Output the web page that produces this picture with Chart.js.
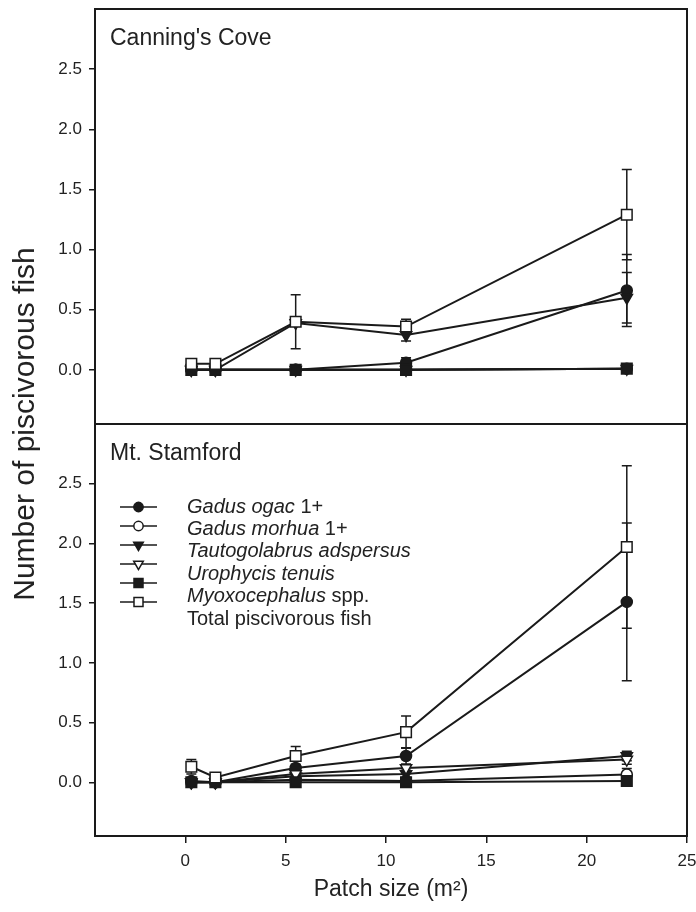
<!DOCTYPE html>
<html lang="en">
<head>
  <meta charset="UTF-8" />
  <title>Piscivorous fish by patch size</title>
  <script src="https://cdn.jsdelivr.net/npm/chart.js"></script>
  <style>
    html, body { margin: 0; padding: 0; background: #fff; }
    #wrap { position: relative; width: 696px; height: 912px; }
    #topBox { position: absolute; left: 0; top: 0; }
    #botBox { position: absolute; left: 0; top: 424px; }
    #ytitle {
      position: absolute; left: 24px; top: 424px; width: 600px;
      transform: translate(-50%, -50%) rotate(-90deg);
      text-align: center; white-space: nowrap;
      font: 30px 'Liberation Sans', Arial, sans-serif; color: #222;
    }
  </style>
</head>
<body>
<div id="wrap">
  <div id="topBox"><canvas id="topChart" width="696" height="425"></canvas></div>
  <div id="botBox"><canvas id="botChart" width="696" height="488"></canvas></div>
  <div id="ytitle">Number of piscivorous fish</div>
</div>
<script>
  // patch sizes (m2) and axis ticks
  const xVals = [0.3, 1.5, 5.5, 11, 22];
  const xTicks = [0, 5, 10, 15, 20, 25];
  const yTicks = [0, 0.5, 1, 1.5, 2, 2.5];

  // legend text: italic part + plain part
  const legendItalic = ['Gadus ogac', 'Gadus morhua', 'Tautogolabrus adspersus', 'Urophycis tenuis', 'Myoxocephalus', ''];
  const legendPlain = [' 1+', ' 1+', '', '', ' spp.', 'Total piscivorous fish'];

  // Canning's Cove
  const ccOgac = [0, 0, 0, 0.06, 0.66];
  const ccOgacErr = [0, 0, 0, 0.04, 0.30];
  const ccMorhua = [0, 0, 0, 0, 0.01];
  const ccMorhuaErr = [0, 0, 0, 0, 0];
  const ccTauto = [0, 0, 0.39, 0.29, 0.60];
  const ccTautoErr = [0, 0, 0, 0.05, 0.21];
  const ccUro = [0, 0, 0, 0, 0.01];
  const ccUroErr = [0, 0, 0, 0, 0];
  const ccMyox = [0, 0, 0, 0, 0.01];
  const ccMyoxErr = [0, 0, 0, 0, 0];
  const ccTotal = [0.05, 0.05, 0.40, 0.36, 1.29];
  const ccTotalErr = [0, 0, 0.225, 0.06, 0.375];

  // Mt. Stamford
  const msOgac = [0.01, 0, 0.12, 0.22, 1.51];
  const msOgacErr = [0.01, 0, 0.03, 0.07, 0.66];
  const msMorhua = [0, 0, 0.02, 0.01, 0.065];
  const msMorhuaErr = [0, 0, 0, 0.01, 0.05];
  const msTauto = [0, 0, 0.05, 0.07, 0.22];
  const msTautoErr = [0, 0, 0.02, 0.03, 0.04];
  const msUro = [0, 0, 0.07, 0.12, 0.19];
  const msUroErr = [0, 0, 0.02, 0.03, 0.04];
  const msMyox = [0, 0, 0, 0, 0.01];
  const msMyoxErr = [0, 0, 0, 0, 0];
  const msTotal = [0.13, 0.04, 0.22, 0.42, 1.97];
  const msTotalErr = [0.06, 0.01, 0.08, 0.135, 0.68];

  const INK = '#1a1a1a';
  const FONT = "'Liberation Sans', Arial, sans-serif";
  Chart.defaults.font.family = FONT;
  Chart.defaults.color = '#222';

  // marker styles in legend order
  const marks = [
    { style: 'circle', fill: INK, r: 5.5, rot: 0 },
    { style: 'circle', fill: '#fff', r: 5.5, rot: 0 },
    { style: 'triangle', fill: INK, r: 6.5, rot: 180 },
    { style: 'triangle', fill: '#fff', r: 6.5, rot: 180 },
    { style: 'rect', fill: INK, r: 7.5, rot: 0 },
    { style: 'rect', fill: '#fff', r: 7.5, rot: 0 }
  ];

  function makeSets(series, errs) {
    return series.map((vals, i) => ({
      data: xVals.map((x, j) => ({ x: x, y: vals[j] })),
      errs: errs[i],
      borderColor: INK,
      borderWidth: 2,
      pointStyle: marks[i].style,
      pointRadius: marks[i].r,
      pointRotation: marks[i].rot,
      pointBackgroundColor: marks[i].fill,
      pointBorderColor: INK,
      pointBorderWidth: 1.5,
      order: series.length - i,
      tension: 0
    }));
  }

  const errorBars = {
    id: 'errorBars',
    beforeDatasetsDraw(chart) {
      const ctx = chart.ctx;
      const ys = chart.scales.y;
      ctx.save();
      ctx.strokeStyle = INK;
      ctx.lineWidth = 1.5;
      chart.data.datasets.forEach((ds, i) => {
        const meta = chart.getDatasetMeta(i);
        ds.data.forEach((p, j) => {
          const e = ds.errs[j];
          if (!e) return;
          const x = meta.data[j].x;
          const y1 = ys.getPixelForValue(p.y + e);
          const y2 = ys.getPixelForValue(p.y - e);
          ctx.beginPath();
          ctx.moveTo(x, y1); ctx.lineTo(x, y2);
          ctx.moveTo(x - 5, y1); ctx.lineTo(x + 5, y1);
          ctx.moveTo(x - 5, y2); ctx.lineTo(x + 5, y2);
          ctx.stroke();
        });
      });
      ctx.restore();
    }
  };

  const frame = {
    id: 'frame',
    afterDraw(chart, args, opts) {
      const { ctx, chartArea: a } = chart;
      ctx.save();
      ctx.strokeStyle = INK;
      ctx.lineWidth = 2;
      ctx.strokeRect(a.left, a.top, a.right - a.left, a.bottom - a.top);
      ctx.fillStyle = '#222';
      ctx.font = '23px ' + FONT;
      ctx.textBaseline = 'alphabetic';
      ctx.fillText(opts.title, a.left + 15, a.top + 36);
      ctx.restore();
    }
  };

  function drawMark(ctx, m, x, y, r) {
    ctx.beginPath();
    if (m.style === 'circle') {
      ctx.arc(x, y, r, 0, Math.PI * 2);
    } else if (m.style === 'triangle') {
      const s = r * Math.sin(Math.PI / 3);
      ctx.moveTo(x, y + r);
      ctx.lineTo(x - s, y - r / 2);
      ctx.lineTo(x + s, y - r / 2);
      ctx.closePath();
    } else {
      const h = r * Math.SQRT1_2;
      ctx.rect(x - h, y - h, 2 * h, 2 * h);
    }
    ctx.fillStyle = m.fill;
    ctx.fill();
    ctx.stroke();
  }

  const legendBox = {
    id: 'legendBox',
    afterDraw(chart) {
      const ctx = chart.ctx;
      ctx.save();
      ctx.strokeStyle = INK;
      ctx.lineWidth = 1.5;
      marks.forEach((m, i) => {
        const y = 83 + 19 * i;
        ctx.beginPath();
        ctx.moveTo(120, y); ctx.lineTo(157, y);
        ctx.stroke();
        drawMark(ctx, m, 138.5, y, m.r * 0.85);
      });
      ctx.fillStyle = '#222';
      ctx.textBaseline = 'middle';
      legendItalic.forEach((t, i) => {
        const y = 83 + 22.4 * i;
        let x = 187;
        if (t) {
          ctx.font = 'italic 20px ' + FONT;
          ctx.fillText(t, x, y);
          x += ctx.measureText(t).width;
        }
        ctx.font = '20px ' + FONT;
        ctx.fillText(legendPlain[i], x, y);
      });
      ctx.restore();
    }
  };

  function yScale() {
    return {
      min: -0.45, max: 3.0,
      afterBuildTicks: s => { s.ticks = yTicks.map(v => ({ value: v })); },
      afterFit: s => { s.width = 95; s.paddingTop = 0; s.paddingBottom = 0; },
      ticks: { font: { size: 17 }, padding: 7, callback: v => v.toFixed(1) },
      grid: { drawOnChartArea: false, drawTicks: true, tickLength: 6, color: INK, lineWidth: 1.5 },
      border: { display: false }
    };
  }

  function baseOptions() {
    return {
      responsive: false,
      animation: false,
      plugins: { legend: { display: false }, tooltip: { enabled: false } },
      elements: { line: { fill: false } }
    };
  }

  const topOpts = baseOptions();
  topOpts.layout = { autoPadding: false, padding: { left: 0, top: 9, right: 9, bottom: 1 } };
  topOpts.plugins.frame = { title: "Canning's Cove" };
  topOpts.scales = {
    x: { type: 'linear', min: -4.5, max: 25, display: false },
    y: yScale()
  };

  new Chart(document.getElementById('topChart'), {
    type: 'line',
    data: {
      datasets: makeSets(
        [ccOgac, ccMorhua, ccTauto, ccUro, ccMyox, ccTotal],
        [ccOgacErr, ccMorhuaErr, ccTautoErr, ccUroErr, ccMyoxErr, ccTotalErr])
    },
    options: topOpts,
    plugins: [errorBars, frame]
  });

  const botOpts = baseOptions();
  botOpts.layout = { autoPadding: false, padding: { left: 0, top: 0, right: 9, bottom: 0 } };
  botOpts.plugins.frame = { title: 'Mt. Stamford' };
  botOpts.scales = {
    x: {
      type: 'linear', min: -4.5, max: 25,
      afterBuildTicks: s => { s.ticks = xTicks.map(v => ({ value: v })); },
      afterFit: s => { s.height = 76; s.paddingLeft = 0; s.paddingRight = 0; },
      ticks: { font: { size: 17 }, padding: 8, maxRotation: 0 },
      grid: { drawOnChartArea: false, drawTicks: true, tickLength: 7, color: INK, lineWidth: 1.5 },
      border: { display: false },
      title: { display: true, text: 'Patch size (m\u00B2)', font: { size: 23 }, padding: { top: 0, bottom: 9 } }
    },
    y: yScale()
  };

  new Chart(document.getElementById('botChart'), {
    type: 'line',
    data: {
      datasets: makeSets(
        [msOgac, msMorhua, msTauto, msUro, msMyox, msTotal],
        [msOgacErr, msMorhuaErr, msTautoErr, msUroErr, msMyoxErr, msTotalErr])
    },
    options: botOpts,
    plugins: [errorBars, frame, legendBox]
  });
</script>
</body>
</html>
